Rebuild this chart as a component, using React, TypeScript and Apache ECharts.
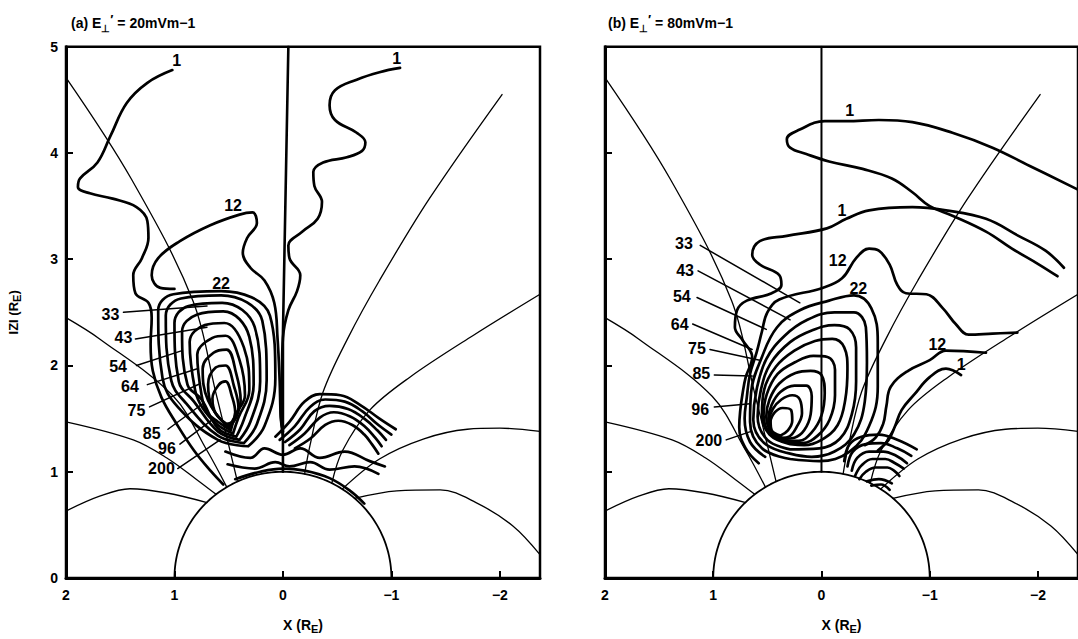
import React, { useEffect, useRef } from "react";
import * as echarts from "echarts";

type P = [number, number];
type L = [number, number, string];

const FONT = '"Liberation Sans", Arial, Helvetica, sans-serif';
const X_LABELS = [2, 1, 0, -1, -2];
const X_TICKS = [1, 0, -1, -2];
const X_MIN = -2.37;
const X_MAX = 2;
const Y_MIN = 0;
const Y_MAX = 5;
const EARTH_RADIUS = 1;
const PANEL_TITLES = ["(a) E{sub|⊥}{pr|′} = 20mVm−1", "(b) E{sub|⊥}{pr|′} = 80mVm−1"];

// ---- model field lines (same in both panels) ----
const FIELD_N1: P[] = [[2, 4.71], [1.4, 3.76], [0.83, 2.61], [0.62, 1.75], [0.5, 1.25], [0.42, 0.91]];
const FIELD_N2: P[] = [[2, 2.45], [1.69, 2.25], [1.01, 1.71], [0.7, 1.2], [0.52, 0.86]];
const FIELD_N3: P[] = [[2, 1.47], [1.38, 1.3], [1.07, 1.13], [0.8, 0.93], [0.62, 0.79]];
const FIELD_N4: P[] = [[2, 0.63], [1.69, 0.77], [1.41, 0.84], [1.07, 0.8], [0.7, 0.71]];
const FIELD_S1: P[] = [[-0.66, 0.75], [-1.05, 0.82], [-1.45, 0.83], [-1.78, 0.71], [-2.12, 0.49], [-2.37, 0.22]];
const FIELD_S2: P[] = [[-0.55, 0.84], [-0.89, 1.12], [-1.3, 1.31], [-1.7, 1.4], [-2.0, 1.41], [-2.37, 1.38]];
const FIELD_S3: P[] = [[-0.45, 0.89], [-0.55, 1.2], [-0.8, 1.58], [-1.17, 1.89], [-1.75, 2.28], [-2.37, 2.67]];
const FIELD_S4: P[] = [[-0.2, 0.98], [-0.25, 1.25], [-0.37, 1.75], [-0.6, 2.26], [-0.89, 2.8], [-1.35, 3.57], [-2.02, 4.55]];
const AXIS_LINE_A: P[] = [[0, 1], [0, 2.3], [-0.05, 5]];
const AXIS_LINE_B: P[] = [[0, 1], [0, 5]];

// ---- panel (a) contours ----
const A_C1_LEFT: P[] = [[1.02, 4.78], [1.25, 4.66], [1.44, 4.47], [1.59, 4.16], [1.71, 3.91], [1.87, 3.76], [1.89, 3.68], [1.78, 3.62], [1.57, 3.57], [1.35, 3.49], [1.25, 3.36], [1.24, 3.2], [1.3, 3.01], [1.38, 2.85], [1.36, 2.68], [1.24, 2.59], [1.21, 2.45], [1.22, 2.2], [1.2, 1.95], [1.12, 1.7], [0.98, 1.45], [0.82, 1.2], [0.66, 1.0], [0.55, 0.88]];
const A_C1_RIGHT: P[] = [[-1.08, 4.8], [-0.89, 4.76], [-0.68, 4.69], [-0.48, 4.59], [-0.43, 4.45], [-0.48, 4.31], [-0.68, 4.19], [-0.76, 4.1], [-0.73, 4.02], [-0.59, 3.96], [-0.37, 3.91], [-0.28, 3.82], [-0.29, 3.69], [-0.36, 3.54], [-0.32, 3.38], [-0.18, 3.26], [-0.05, 3.13], [-0.06, 3.01], [-0.16, 2.85], [-0.13, 2.7], [-0.05, 2.52], [0.0, 2.26], [0.01, 1.9], [0.02, 1.55], [0.0, 1.38]];
const A_C12: P[] = [[1.0, 2.72], [1.13, 2.73], [1.21, 2.85], [1.15, 3.01], [0.95, 3.17], [0.67, 3.32], [0.4, 3.42], [0.28, 3.44], [0.24, 3.34], [0.33, 3.2], [0.37, 3.06], [0.3, 2.92], [0.17, 2.8], [0.08, 2.59], [0.05, 2.26], [0.03, 1.85], [0.02, 1.52], [0.0, 1.33]];
const A_C22: P[] = [[0.32, 1.24], [0.6, 1.3], [0.97, 1.61], [1.11, 1.88], [1.15, 2.52], [1.01, 2.67], [0.57, 2.7], [0.12, 2.47], [0.07, 1.88], [0.17, 1.43]];
const A_C33: P[] = [[0.36, 1.27], [0.6, 1.34], [0.89, 1.64], [1.03, 1.86], [1.08, 2.47], [0.94, 2.63], [0.57, 2.66], [0.19, 2.42], [0.15, 1.86], [0.24, 1.45]];
const A_C43: P[] = [[0.4, 1.3], [0.6, 1.38], [0.82, 1.66], [0.96, 1.85], [1.0, 2.4], [0.87, 2.56], [0.56, 2.59], [0.26, 2.36], [0.21, 1.85], [0.3, 1.47]];
const A_C54: P[] = [[0.43, 1.33], [0.6, 1.41], [0.75, 1.68], [0.88, 1.82], [0.93, 2.32], [0.79, 2.48], [0.55, 2.51], [0.31, 2.27], [0.27, 1.82], [0.36, 1.49]];
const A_C64: P[] = [[0.46, 1.36], [0.6, 1.44], [0.74, 1.6], [0.81, 1.77], [0.86, 2.22], [0.72, 2.38], [0.54, 2.4], [0.36, 2.17], [0.31, 1.77], [0.41, 1.51]];
const A_C75: P[] = [[0.48, 1.39], [0.6, 1.47], [0.7, 1.56], [0.75, 1.72], [0.79, 2.1], [0.65, 2.26], [0.53, 2.28], [0.4, 2.05], [0.35, 1.72], [0.44, 1.53]];
const A_C85: P[] = [[0.5, 1.41], [0.69, 1.67], [0.74, 1.97], [0.64, 2.12], [0.52, 2.15], [0.43, 1.92], [0.39, 1.67], [0.44, 1.5]];
const A_C96: P[] = [[0.51, 1.43], [0.65, 1.6], [0.69, 1.82], [0.62, 1.98], [0.53, 2.0], [0.45, 1.8], [0.41, 1.6], [0.45, 1.48]];
const A_C200: P[] = [[0.52, 1.45], [0.62, 1.55], [0.65, 1.69], [0.59, 1.82], [0.53, 1.85], [0.47, 1.71], [0.44, 1.56], [0.47, 1.47]];
const A_HUMP1: P[] = [[0.07, 1.33], [-0.06, 1.47], [-0.2, 1.66], [-0.34, 1.73], [-0.53, 1.72], [-0.71, 1.63], [-0.89, 1.5], [-1.04, 1.4]];
const A_HUMP2: P[] = [[0.03, 1.3], [-0.11, 1.43], [-0.25, 1.61], [-0.39, 1.68], [-0.57, 1.66], [-0.73, 1.57], [-0.88, 1.44], [-1.0, 1.35]];
const A_HUMP3: P[] = [[-0.02, 1.28], [-0.16, 1.4], [-0.29, 1.57], [-0.43, 1.62], [-0.6, 1.59], [-0.75, 1.5], [-0.87, 1.39], [-0.95, 1.3]];
const A_HUMP4: P[] = [[-0.06, 1.25], [-0.2, 1.36], [-0.34, 1.51], [-0.47, 1.56], [-0.62, 1.52], [-0.75, 1.43], [-0.85, 1.32], [-0.91, 1.24]];
const A_HUMP5: P[] = [[-0.11, 1.22], [-0.25, 1.31], [-0.39, 1.44], [-0.51, 1.48], [-0.64, 1.44], [-0.75, 1.35], [-0.82, 1.26], [-0.88, 1.17]];
const A_WAVE1: P[] = [[0.53, 1.19], [0.3, 1.13], [0.17, 1.22], [0.0, 1.16], [-0.16, 1.22], [-0.34, 1.13], [-0.57, 1.19], [-0.8, 1.1], [-0.94, 1.05]];
const A_WAVE2: P[] = [[0.51, 1.07], [0.26, 1.03], [0.07, 1.09], [-0.06, 1.05], [-0.25, 1.09], [-0.43, 1.02], [-0.66, 1.05], [-0.88, 0.98]];
const A_WAVE3: P[] = [[0.44, 0.93], [0.21, 1.0], [0.0, 1.03], [-0.2, 1.01], [-0.43, 0.94], [-0.62, 0.82], [-0.75, 0.7]];

const A_LABELS: L[] = [[0.98, 4.87, "1"], [-1.05, 4.89, "1"], [0.46, 3.51, "12"], [0.57, 2.77, "22"], [1.59, 2.48, "33"], [1.47, 2.26, "43"], [1.52, 1.99, "54"], [1.41, 1.8, "64"], [1.35, 1.58, "75"], [1.21, 1.36, "85"], [1.07, 1.22, "96"], [1.12, 1.03, "200"]];
const A_LEADERS: P[][] = [
  [[1.47, 2.5], [0.7, 2.56]],
  [[1.36, 2.25], [0.7, 2.36]],
  [[1.35, 2.0], [0.93, 2.14]],
  [[1.25, 1.82], [0.79, 1.97]],
  [[1.23, 1.61], [0.76, 1.83]],
  [[1.06, 1.4], [0.74, 1.64]],
  [[0.95, 1.26], [0.65, 1.49]],
  [[0.97, 1.03], [0.58, 1.3]],
];

// ---- panel (b) contours ----
const B_C1_UPPER: P[] = [[-2.36, 3.66], [-1.92, 3.88], [-1.58, 4.05], [-1.21, 4.19], [-0.84, 4.29], [-0.53, 4.31], [-0.23, 4.3], [-0.03, 4.3], [0.2, 4.22], [0.32, 4.13], [0.29, 4.05], [0.14, 3.99], [-0.07, 3.92], [-0.38, 3.85], [-0.65, 3.76], [-0.84, 3.63], [-1.0, 3.5], [-1.21, 3.41], [-1.52, 3.26], [-1.76, 3.1], [-2.01, 2.95], [-2.18, 2.84]];
const B_C1_LOWER: P[] = [[0.58, 1.08], [0.7, 1.22], [0.76, 1.42], [0.75, 1.58], [0.73, 1.73], [0.7, 1.89], [0.64, 2.08], [0.73, 2.24], [0.8, 2.36], [0.78, 2.52], [0.69, 2.61], [0.46, 2.68], [0.37, 2.76], [0.39, 2.85], [0.57, 2.95], [0.64, 3.04], [0.57, 3.17], [0.32, 3.22], [-0.05, 3.29], [-0.23, 3.38], [-0.44, 3.46], [-0.84, 3.49], [-1.15, 3.46], [-1.52, 3.38], [-1.82, 3.22], [-2.07, 3.08], [-2.24, 2.92]];
const B_C12: P[] = [[-1.81, 2.31], [-1.58, 2.3], [-1.36, 2.29], [-1.24, 2.39], [-1.12, 2.54], [-0.97, 2.67], [-0.78, 2.68], [-0.7, 2.76], [-0.63, 2.95], [-0.53, 3.08], [-0.44, 3.1], [-0.32, 3.01], [-0.19, 2.82], [-0.01, 2.73], [0.39, 2.62], [0.5, 2.5], [0.55, 2.32], [0.6, 2.12], [0.66, 1.92], [0.69, 1.7], [0.71, 1.5], [0.66, 1.28], [0.52, 1.14]];
const B_C12_LOW: P[] = [[-1.52, 2.12], [-1.15, 2.14], [-1.0, 2.05], [-0.8, 1.95], [-0.64, 1.8], [-0.6, 1.62], [-0.57, 1.45], [-0.5, 1.32], [-0.4, 1.25]];
const B_C1_LOW: P[] = [[-1.29, 1.91], [-1.15, 1.97], [-1.0, 1.89], [-0.86, 1.73], [-0.74, 1.58], [-0.68, 1.43], [-0.62, 1.3], [-0.52, 1.2]];
const B_C22: P[] = [[0.29, 1.12], [0.55, 1.22], [0.66, 1.47], [0.65, 1.75], [0.55, 2.08], [0.41, 2.36], [0.2, 2.52], [-0.07, 2.61], [-0.3, 2.66], [-0.46, 2.54], [-0.52, 2.22], [-0.52, 1.8], [-0.44, 1.43], [-0.26, 1.19], [0.02, 1.1]];
const B_C33: P[] = [[0.29, 1.17], [0.53, 1.27], [0.63, 1.49], [0.6, 1.77], [0.51, 2.06], [0.34, 2.28], [0.13, 2.43], [-0.12, 2.5], [-0.3, 2.5], [-0.41, 2.36], [-0.42, 2.03], [-0.4, 1.66], [-0.3, 1.35], [-0.12, 1.19], [0.09, 1.14]];
const B_C43: P[] = [[0.29, 1.21], [0.5, 1.3], [0.59, 1.52], [0.56, 1.77], [0.47, 2.02], [0.29, 2.22], [0.09, 2.33], [-0.12, 2.38], [-0.26, 2.34], [-0.32, 2.17], [-0.32, 1.85], [-0.28, 1.54], [-0.17, 1.31], [0.02, 1.22]];
const B_C54: P[] = [[0.29, 1.26], [0.48, 1.35], [0.55, 1.54], [0.53, 1.77], [0.42, 1.99], [0.25, 2.14], [0.06, 2.23], [-0.1, 2.25], [-0.21, 2.17], [-0.24, 1.97], [-0.22, 1.68], [-0.15, 1.44], [0.0, 1.3], [0.16, 1.25]];
const B_C64: P[] = [[0.305, 1.27], [0.475, 1.36], [0.535, 1.53], [0.505, 1.73], [0.405, 1.92], [0.245, 2.03], [0.075, 2.09], [-0.055, 2.08], [-0.125, 1.96], [-0.125, 1.72], [-0.075, 1.49], [0.035, 1.34], [0.175, 1.27]];
const B_C75: P[] = [[0.32, 1.29], [0.46, 1.37], [0.51, 1.52], [0.48, 1.68], [0.39, 1.83], [0.24, 1.93], [0.1, 1.95], [0.0, 1.91], [-0.03, 1.74], [0.0, 1.53], [0.09, 1.37], [0.21, 1.29]];
const B_C85: P[] = [[0.34, 1.31], [0.46, 1.37], [0.49, 1.5], [0.46, 1.63], [0.38, 1.75], [0.25, 1.81], [0.14, 1.81], [0.09, 1.71], [0.1, 1.54], [0.16, 1.39], [0.25, 1.32]];
const B_C96: P[] = [[0.36, 1.32], [0.47, 1.38], [0.48, 1.49], [0.45, 1.59], [0.37, 1.68], [0.27, 1.72], [0.2, 1.68], [0.18, 1.55], [0.23, 1.42], [0.3, 1.33]];
const B_C200: P[] = [[0.38, 1.34], [0.46, 1.39], [0.47, 1.47], [0.43, 1.56], [0.36, 1.6], [0.28, 1.58], [0.27, 1.48], [0.31, 1.39]];
const B_HUMP1: P[] = [[-0.21, 1.1], [-0.26, 1.26], [-0.37, 1.33], [-0.53, 1.35], [-0.7, 1.3], [-0.88, 1.21]];
const B_HUMP2: P[] = [[-0.24, 1.05], [-0.29, 1.19], [-0.41, 1.26], [-0.55, 1.27], [-0.7, 1.22], [-0.83, 1.15]];
const B_HUMP3: P[] = [[-0.28, 1.01], [-0.33, 1.13], [-0.44, 1.19], [-0.57, 1.19], [-0.69, 1.15], [-0.79, 1.08]];
const B_HUMP4: P[] = [[-0.31, 0.96], [-0.37, 1.06], [-0.47, 1.12], [-0.59, 1.12], [-0.68, 1.08], [-0.76, 1.03]];
const B_HUMP5: P[] = [[-0.35, 0.93], [-0.41, 1.0], [-0.5, 1.04], [-0.61, 1.04], [-0.67, 1.01], [-0.72, 0.96]];
const B_HUMP6: P[] = [[-0.42, 0.91], [-0.53, 0.93], [-0.65, 0.89]];
const B_HUMP7: P[] = [[-0.46, 0.87], [-0.55, 0.88], [-0.63, 0.83]];

const B_LABELS: L[] = [[-0.26, 4.4, "1"], [-0.19, 3.46, "1"], [-0.15, 2.99, "12"], [-0.34, 2.72, "22"], [-1.07, 2.2, "12"], [-1.29, 2.01, "1"], [1.27, 3.15, "33"], [1.26, 2.89, "43"], [1.29, 2.65, "54"], [1.31, 2.39, "64"], [1.15, 2.16, "75"], [1.11, 1.92, "85"], [1.12, 1.59, "96"], [1.04, 1.29, "200"]];
const B_LEADERS: P[][] = [
  [[1.12, 3.13], [0.2, 2.59]],
  [[1.14, 2.89], [0.29, 2.43]],
  [[1.15, 2.64], [0.51, 2.34]],
  [[1.19, 2.39], [0.64, 2.15]],
  [[1.03, 2.15], [0.57, 2.05]],
  [[0.99, 1.91], [0.64, 1.9]],
  [[0.99, 1.61], [0.66, 1.64]],
  [[0.88, 1.3], [0.65, 1.38]],
];

const FIELD_LINES = [FIELD_N1, FIELD_N2, FIELD_N3, FIELD_N4, FIELD_S1, FIELD_S2, FIELD_S3, FIELD_S4];
const A_OPEN = [A_C1_LEFT, A_C1_RIGHT, A_C12, A_HUMP1, A_HUMP2, A_HUMP3, A_HUMP4, A_HUMP5, A_WAVE1, A_WAVE2, A_WAVE3];
const A_LOOPS = [A_C22, A_C33, A_C43, A_C54, A_C64, A_C75, A_C85, A_C96, A_C200];
const B_OPEN = [B_C1_UPPER, B_C1_LOWER, B_C12, B_C12_LOW, B_C1_LOW, B_HUMP1, B_HUMP2, B_HUMP3, B_HUMP4, B_HUMP5, B_HUMP6, B_HUMP7];
const B_LOOPS = [B_C22, B_C33, B_C43, B_C54, B_C64, B_C75, B_C85, B_C96, B_C200];

function earthOutline(): P[] {
  const pts: P[] = [];
  for (let deg = 0; deg <= 180; deg += 2) {
    const r = (deg * Math.PI) / 180;
    pts.push([EARTH_RADIUS * Math.cos(r), EARTH_RADIUS * Math.sin(r)]);
  }
  return pts;
}

function line(data: P[], panel: number, width: number, smooth: number | boolean, z: number) {
  return {
    type: "line",
    data,
    xAxisIndex: panel,
    yAxisIndex: panel,
    showSymbol: false,
    symbol: "none",
    smooth,
    clip: true,
    silent: true,
    z,
    lineStyle: { color: "#000", width, cap: "round", join: "round" },
  };
}

function labels(data: L[], panel: number) {
  return {
    type: "scatter",
    data,
    xAxisIndex: panel,
    yAxisIndex: panel,
    symbolSize: 0,
    itemStyle: { color: "#000", opacity: 1 },
    silent: true,
    z: 10,
    label: {
      show: true,
      position: "inside",
      formatter: (p: any) => p.data[2],
      fontFamily: FONT,
      fontWeight: "bold",
      fontSize: 16,
      color: "#000",
      opacity: 1,
      textBorderWidth: 0,
    },
  };
}

const subRich = {
  sub: { fontSize: 10, fontWeight: "bold", fontFamily: FONT, color: "#000", lineHeight: 10, verticalAlign: "bottom" },
  pr: { fontSize: 13, fontWeight: "bold", fontFamily: FONT, color: "#000", lineHeight: 12, verticalAlign: "top" },
  e: { fontSize: 11, fontWeight: "bold", fontFamily: FONT, color: "#000", lineHeight: 10, verticalAlign: "bottom" },
};

function buildOption() {
  const series: any[] = [];
  const earth = earthOutline();
  [0, 1].forEach((p) => {
    series.push(line(earth, p, 1.8, false, 3));
    FIELD_LINES.forEach((f) => series.push(line(f, p, 1.3, 0.35, 2)));
    series.push(line(p === 0 ? AXIS_LINE_A : AXIS_LINE_B, p, p === 0 ? 2.6 : 2, false, 4));
    const open = p === 0 ? A_OPEN : B_OPEN;
    const loops = p === 0 ? A_LOOPS : B_LOOPS;
    open.forEach((c) => series.push(line(c, p, 2.7, 0.4, 5)));
    loops.forEach((c) => series.push(line([...c, c[0]], p, 2.7, 0.4, 5)));
    (p === 0 ? A_LEADERS : B_LEADERS).forEach((c) => series.push(line(c, p, 1.5, false, 6)));
    series.push(labels(p === 0 ? A_LABELS : B_LABELS, p));
  });

  const axisText = { fontFamily: FONT, fontWeight: "bold", fontSize: 14, color: "#000" };
  const xAxis = [0, 1].map((p) => ({
    type: "value",
    gridIndex: p,
    min: X_MIN,
    max: X_MAX,
    inverse: true,
    axisLine: { show: true, onZero: false, lineStyle: { color: "#000", width: 3 } },
    axisTick: { show: true, inside: true, length: 7, customValues: X_TICKS, lineStyle: { color: "#000", width: 2 } },
    axisLabel: {
      ...axisText,
      margin: 10,
      customValues: X_LABELS,
      formatter: (v: number) => (v < 0 ? "−" + Math.abs(v) : String(v)),
    },
    splitLine: { show: false },
    name: "X (R{e|E})",
    nameLocation: "middle",
    nameGap: 38,
    nameTextStyle: { ...axisText, lineHeight: 18, rich: subRich },
  }));
  const yAxis = [0, 1].map((p) => ({
    type: "value",
    gridIndex: p,
    min: Y_MIN,
    max: Y_MAX,
    interval: 1,
    axisLine: { show: true, onZero: false, lineStyle: { color: "#000", width: 3 } },
    axisTick: { show: true, inside: true, length: 7, lineStyle: { color: "#000", width: 2 } },
    axisLabel: { ...axisText, show: p === 0, margin: 8 },
    splitLine: { show: false },
    name: p === 0 ? "IZI (R{e|E})" : "",
    nameLocation: "middle",
    nameGap: 44,
    nameTextStyle: { ...axisText, fontSize: 13, lineHeight: 18, rich: subRich },
  }));

  return {
    animation: false,
    backgroundColor: "#fff",
    title: PANEL_TITLES.map((t, i) => ({
      text: t,
      left: i === 0 ? 66 : 603,
      top: 8,
      textStyle: { fontFamily: FONT, fontWeight: "bold", fontSize: 14, color: "#000", lineHeight: 20, rich: subRich },
    })),
    grid: [
      { left: 66, top: 46.7, width: 474, height: 536.3, show: true, borderColor: "#000", borderWidth: 2.5 },
      { left: 605, top: 46.7, width: 474, height: 536.3, show: true, borderColor: "#000", borderWidth: 2.5 },
    ],
    xAxis,
    yAxis,
    series,
  };
}

export default function App() {
  const ref = useRef<HTMLDivElement>(null);
  useEffect(() => {
    if (!ref.current) return;
    const chart = echarts.init(ref.current, null, { renderer: "svg" });
    chart.setOption(buildOption() as any);
    return () => chart.dispose();
  }, []);
  return <div ref={ref} style={{ position: "fixed", left: 0, top: 0, width: 1078, height: 639, background: "#fff" }} />;
}
